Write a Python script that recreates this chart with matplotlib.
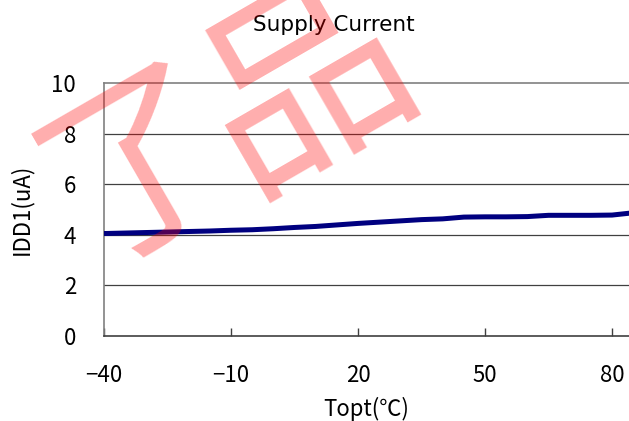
import matplotlib
matplotlib.use("Agg")
import matplotlib.pyplot as plt

plt.rcParams['font.family'] = ['Noto Sans CJK JP', 'DejaVu Sans']

# temperature (degC) vs supply current IDD1 (uA)
temps = [-40, -35, -30, -25, -20, -15, -10, -5, 0, 5, 10, 15, 20,
         25, 30, 35, 40, 45, 50, 55, 60, 65, 70, 75, 80, 85]
idd1 = [4.05, 4.07, 4.09, 4.11, 4.13, 4.15, 4.18, 4.20, 4.24, 4.29, 4.33,
        4.39, 4.45, 4.50, 4.55, 4.60, 4.63, 4.70, 4.71, 4.71, 4.72, 4.77,
        4.77, 4.77, 4.78, 4.87]

xticks = [-40, -10, 20, 50, 80]
yticks = [0, 2, 4, 6, 8, 10]

W, H = 629, 421
fig = plt.figure(figsize=(W / 100, H / 100), dpi=100)
ax = fig.add_axes([104 / W, (H - 336) / H, (W - 104) / W, 253 / H])

ax.plot(temps, idd1, color='#000080', lw=3.6, solid_capstyle='butt', zorder=3)

ax.set_xlim(-40, 84)
ax.set_ylim(0, 10)
ax.set_xticks(xticks)
ax.set_xticklabels([str(t).replace('-', '\u2212') for t in xticks])
ax.set_yticks(yticks)
for y in yticks[1:-1]:
    ax.axhline(y, color='#404040', lw=0.9, zorder=1)

ax.spines['right'].set_visible(False)
ax.spines['top'].set_color('#808080')
ax.spines['left'].set_color('#808080')
ax.spines['bottom'].set_color('#404040')
for s in ('top', 'left', 'bottom'):
    ax.spines[s].set_linewidth(1.2)

ax.tick_params(axis='x', direction='in', length=6, width=1, color='#404040',
               pad=20, labelsize=16)
ax.tick_params(axis='y', length=0, pad=20, labelsize=16)

ax.set_xlabel('Topt(\u2103)', fontsize=16, labelpad=7)
ax.set_ylabel('IDD1(uA)', fontsize=16, labelpad=13)
fig.text(334 / W, 1 - 25 / H, 'Supply Current', ha='center', va='center',
         fontsize=15.5, family='DejaVu Sans')

# watermark
wm = dict(color='red', alpha=0.32, rotation=30,
          ha='center', va='center', rotation_mode='anchor', zorder=10)
fig.text(305 / W, 1 - 86 / H, '品', fontsize=150, **wm)
fig.text(143 / W, 1 - 165 / H, '了', fontsize=140, **wm)

fig.savefig('out.png', dpi=100)
